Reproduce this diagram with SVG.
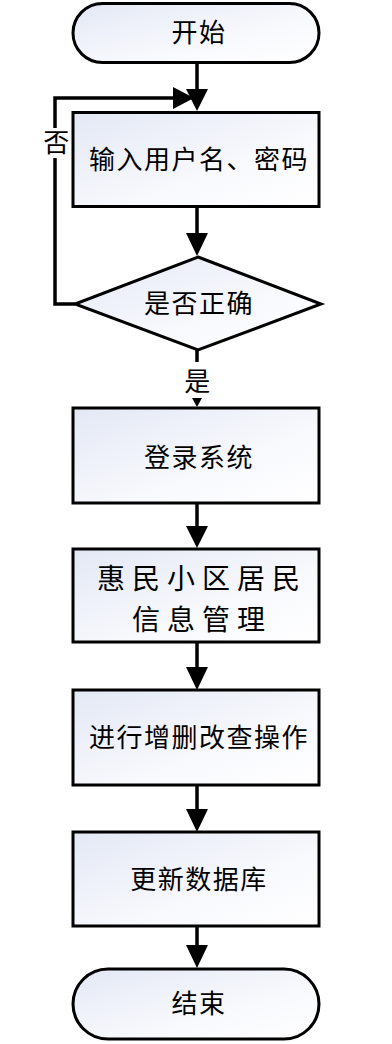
<svg xmlns="http://www.w3.org/2000/svg" width="392" height="1044" viewBox="0 0 392 1044">
<style>
.shape{stroke:#000;stroke-width:3;fill:url(#g)}
.t{font-family:"Noto Sans CJK SC","Noto Sans CJK JP",sans-serif;font-size:26px;fill:#000;text-anchor:middle;letter-spacing:1.5px}
.t2{font-family:"Noto Sans CJK SC","Noto Sans CJK JP",sans-serif;font-size:28px;fill:#000;text-anchor:middle;letter-spacing:7px}
.ln{stroke:#000;stroke-width:3.5;fill:none}
.ah{fill:#000}
</style>
<defs>
<linearGradient id="g" x1="0" y1="0" x2="1" y2="1">
<stop offset="0" stop-color="#e3e8f5"/>
<stop offset="0.6" stop-color="#f8f9fd"/>
<stop offset="1" stop-color="#ffffff"/>
</linearGradient>
</defs>
<g id="connectors">
<line class="ln" x1="197" y1="63" x2="197" y2="92"/>
<polygon class="ah" points="186,89 208,89 197,111"/>
<polyline class="ln" points="75,304 55,304 55,98 176,98"/>
<polygon class="ah" points="173,87 173,109 194,98"/>
<line class="ln" x1="197" y1="207" x2="197" y2="236"/>
<polygon class="ah" points="186,233 208,233 197,256"/>
<line class="ln" x1="197" y1="350" x2="197" y2="362"/>
<polygon class="ah" points="192,398 202,398 197,407"/>
<line class="ln" x1="197" y1="503" x2="197" y2="529"/>
<polygon class="ah" points="186,526 208,526 197,548"/>
<line class="ln" x1="197" y1="642" x2="197" y2="670"/>
<polygon class="ah" points="186,667 208,667 197,690"/>
<line class="ln" x1="197" y1="785" x2="197" y2="812"/>
<polygon class="ah" points="186,809 208,809 197,832"/>
<line class="ln" x1="197" y1="926" x2="197" y2="948"/>
<polygon class="ah" points="186,945 208,945 197,968"/>
<rect x="43" y="128" width="27" height="30" fill="#fff"/>
<text class="t" x="57" y="152">否</text>
<text class="t" x="198" y="391">是</text>
</g>
<g id="start">
<rect class="shape" x="73" y="3.5" width="246" height="59" rx="29.5"/>
<text class="t" x="199" y="42">开始</text>
</g>
<g id="input">
<rect class="shape" x="73" y="112.5" width="246" height="94"/>
<text class="t" x="199" y="169">输入用户名、密码</text>
</g>
<g id="check">
<polygon class="shape" points="198,257 321,304 198,350 75,304"/>
<text class="t" x="199" y="313">是否正确</text>
</g>
<g id="login">
<rect class="shape" x="73" y="408" width="246" height="95"/>
<text class="t" x="199" y="467">登录系统</text>
</g>
<g id="manage">
<rect class="shape" x="73" y="549" width="246" height="93"/>
<text class="t2"><tspan x="202" y="589">惠民小区居民</tspan><tspan x="202" y="630">信息管理</tspan></text>
</g>
<g id="crud">
<rect class="shape" x="73" y="690" width="246" height="95"/>
<text class="t" x="199" y="747">进行增删改查操作</text>
</g>
<g id="update">
<rect class="shape" x="73" y="832" width="246" height="94"/>
<text class="t" x="199" y="889">更新数据库</text>
</g>
<g id="end">
<rect class="shape" x="73" y="969" width="246" height="70" rx="35"/>
<text class="t" x="199" y="1013">结束</text>
</g>
</svg>
